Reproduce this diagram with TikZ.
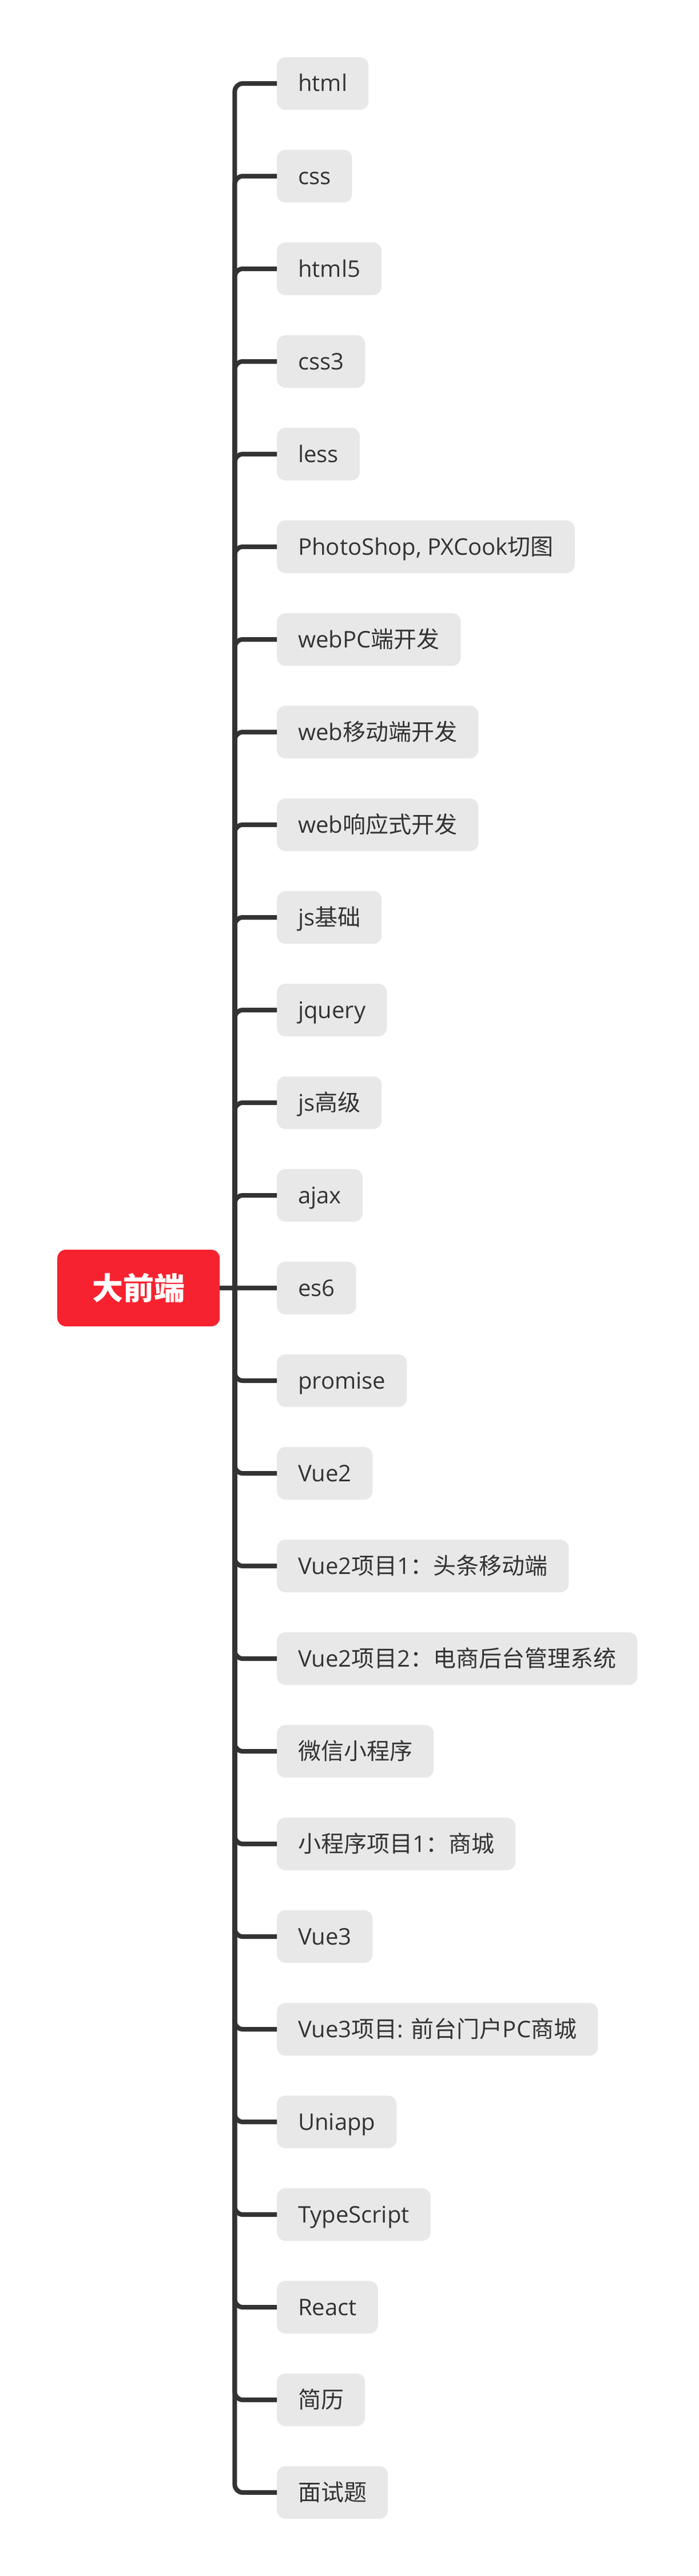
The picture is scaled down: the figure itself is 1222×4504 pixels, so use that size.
\documentclass[tikz,border=0pt]{standalone}
\usepackage{fontspec}
\setmainfont{Open Sans}
\newfontfamily\zhfont{Noto Sans CJK SC}
\newcommand{\zh}[1]{{\zhfont #1}}
\definecolor{rootred}{HTML}{F7222F}
\definecolor{topicgray}{HTML}{E8E8E8}
\definecolor{linegray}{HTML}{333333}
\def\rowsep{162}

\begin{document}
\begin{tikzpicture}[x=1pt, y=-1pt]
      \tikzstyle{topic}=[rectangle, rounded corners=15pt, fill=topicgray, text=linegray, anchor=west, minimum height=92pt, inner xsep=37pt, inner ysep=0pt, font=\fontsize{40pt}{48pt}\selectfont, text height=32pt, text depth=4pt]
      \tikzstyle{central topic}=[topic, fill=rootred, text=white, minimum width=284pt, minimum height=134pt, inner xsep=0pt, font=\fontsize{54pt}{64pt}\selectfont\bfseries, text height=47pt, text depth=7pt]
      \tikzstyle{branch}=[draw=linegray, line width=8pt, rounded corners=14pt]

      \fill[white] (0,0) rectangle (1222,4504);
      \useasboundingbox (0,0) rectangle (1222,4504);

      % Draw the central topic
      \node[central topic] (root) at (100,2252) {\zh{大前端}};

      % Draw the subtopics, one row each
      \foreach \txt [count=\i from 0] in {html, css, html5, css3, less,
          {PhotoShop, PXCook\zh{切图}}, webPC\zh{端开发}, web\zh{移动端开发},
          web\zh{响应式开发}, js\zh{基础}, jquery, js\zh{高级}, ajax, es6, promise,
          Vue2, Vue2\zh{项目}1\zh{：头条移动端}, Vue2\zh{项目}2\zh{：电商后台管理系统},
          \zh{微信小程序}, \zh{小程序项目}1\zh{：商城}, Vue3,
          Vue3\zh{项目}: \zh{前台门户}PC\zh{商城}, Uniapp, TypeScript, React,
          \zh{简历}, \zh{面试题}}
          \node[topic] (T-\i) at (484, {146+\i*\rowsep}) {\txt};

      % Connect the central topic with every subtopic
      \draw[branch] (root.east) -- ++(26,0) coordinate (hub);
      \foreach \dest in {0,...,12,14,15,...,26}
          \draw[branch] (hub) |- (T-\dest.west);
      \draw[branch] (hub) -- (T-13.west);
\end{tikzpicture}
\end{document}
